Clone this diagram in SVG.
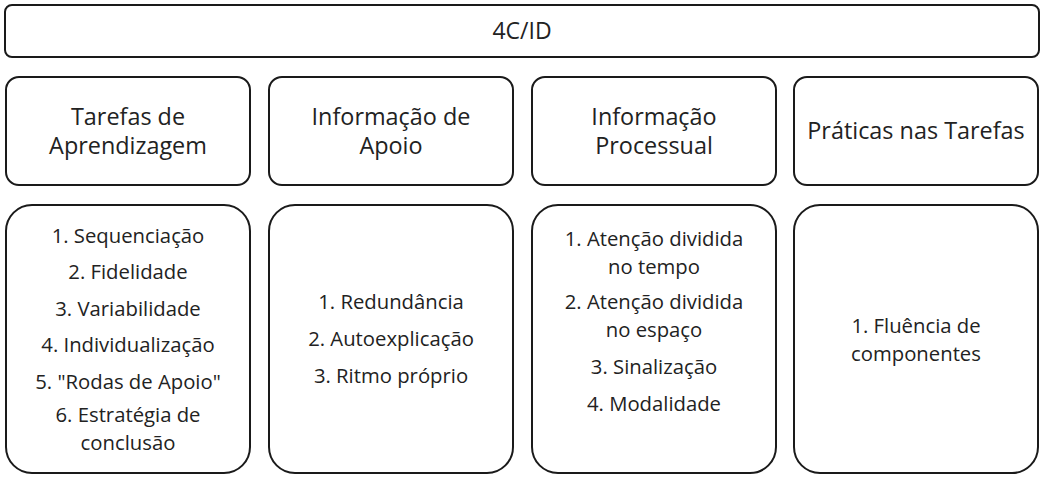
<svg xmlns="http://www.w3.org/2000/svg" width="1043" height="497" viewBox="0 0 1043 497">
<style>
.box{fill:#fff;stroke:#1a1a1a;stroke-width:2}
.h{font-family:"Open Sans","Liberation Sans",Arial,sans-serif;font-size:23.4px;fill:#222;text-anchor:middle}
.t{font-family:"Open Sans","Liberation Sans",Arial,sans-serif;font-size:20.3px;fill:#222;text-anchor:middle}
</style>
<rect width="1043" height="497" fill="#fff"/>
<g id="top">
<rect class="box" x="5" y="5" width="1034" height="52" rx="7"/>
<text class="h" x="522" y="39" style="font-size:23px">4C/ID</text>
</g>
<g id="h1">
<rect class="box" x="6" y="77" width="244" height="108" rx="13"/>
<text class="h" x="128" y="125">Tarefas de</text>
<text class="h" x="128" y="154">Aprendizagem</text>
</g>
<g id="h2">
<rect class="box" x="269" y="77" width="244" height="108" rx="13"/>
<text class="h" x="391" y="125">Informação de</text>
<text class="h" x="391" y="154">Apoio</text>
</g>
<g id="h3">
<rect class="box" x="532" y="77" width="244" height="108" rx="13"/>
<text class="h" x="654" y="125">Informação</text>
<text class="h" x="654" y="154">Processual</text>
</g>
<g id="h4">
<rect class="box" x="794" y="77" width="244" height="108" rx="13"/>
<text class="h" x="916" y="139">Práticas nas Tarefas</text>
</g>
<g id="b1">
<rect class="box" x="6" y="205" width="244" height="268" rx="26"/>
<text class="t" x="128" y="243">1. Sequenciação</text>
<text class="t" x="128" y="279">2. Fidelidade</text>
<text class="t" x="128" y="316">3. Variabilidade</text>
<text class="t" x="128" y="352">4. Individualização</text>
<text class="t" x="128" y="389">5. "Rodas de Apoio"</text>
<text class="t" x="128" y="422">6. Estratégia de</text>
<text class="t" x="128" y="450">conclusão</text>
</g>
<g id="b2">
<rect class="box" x="269" y="205" width="244" height="268" rx="26"/>
<text class="t" x="391" y="309">1. Redundância</text>
<text class="t" x="391" y="346">2. Autoexplicação</text>
<text class="t" x="391" y="383">3. Ritmo próprio</text>
</g>
<g id="b3">
<rect class="box" x="532" y="205" width="244" height="268" rx="26"/>
<text class="t" x="654" y="246">1. Atenção dividida</text>
<text class="t" x="654" y="274">no tempo</text>
<text class="t" x="654" y="309">2. Atenção dividida</text>
<text class="t" x="654" y="337">no espaço</text>
<text class="t" x="654" y="374">3. Sinalização</text>
<text class="t" x="654" y="411">4. Modalidade</text>
</g>
<g id="b4">
<rect class="box" x="794" y="205" width="244" height="268" rx="26"/>
<text class="t" x="916" y="333">1. Fluência de</text>
<text class="t" x="916" y="361">componentes</text>
</g>
<g id="connectors"></g>
</svg>
